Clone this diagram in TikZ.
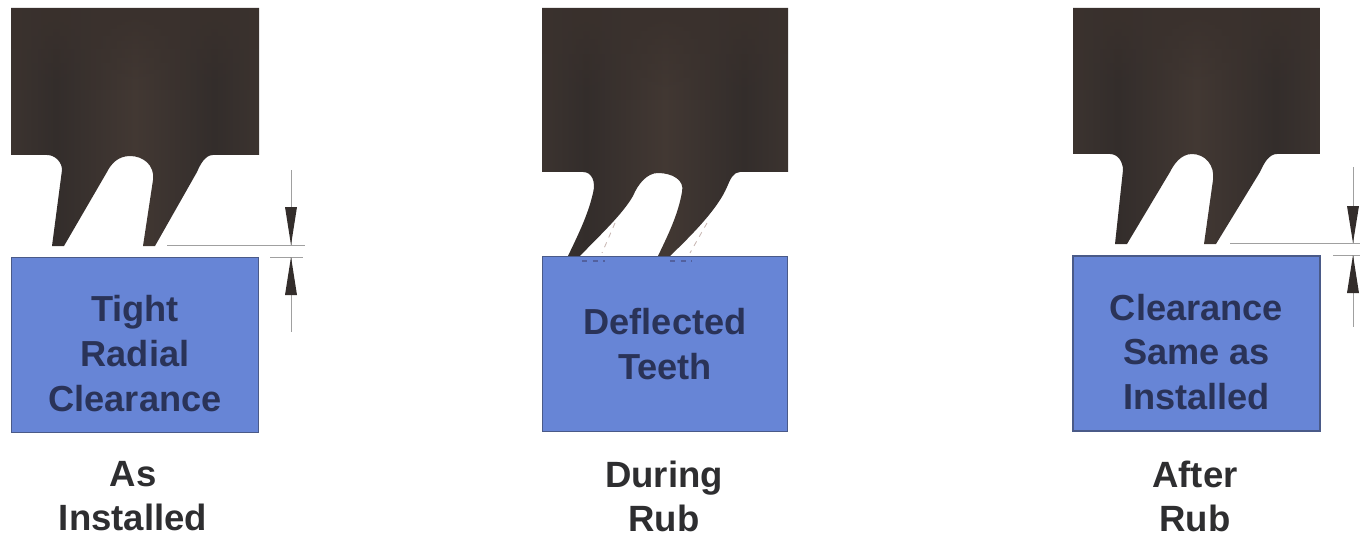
\documentclass[tikz,border=0pt]{standalone}
\usepackage{fontspec}
\setmainfont{Liberation Sans}
\usepackage{xcolor}
\usetikzlibrary{positioning,calc,arrows.meta,fadings}

\definecolor{seal}{HTML}{3A312D}
\definecolor{sealdark}{HTML}{332D2B}
\definecolor{sealmid}{HTML}{423833}
\definecolor{land}{HTML}{6785D6}
\definecolor{landedge}{HTML}{4A5A88}
\definecolor{inktext}{HTML}{2A3358}
\definecolor{capttext}{HTML}{2E2E30}
\definecolor{dimline}{HTML}{A0A0A0}
\definecolor{ghost}{HTML}{C9B8B4}
\definecolor{ghostdark}{HTML}{52609E}

\pgfdeclarehorizontalshading{sealbands}{100bp}{
    color(0bp)=(seal); color(18bp)=(sealmid); color(34bp)=(sealdark);
    color(50bp)=(sealmid); color(66bp)=(sealdark); color(82bp)=(sealmid); color(100bp)=(seal)}

\newcommand{\lowertext}{\rule{0pt}{24.5pt}}

\tikzset{
    sealbody/.style={shading=sealbands, draw=none},
    sealtop/.style={fill=seal, path fading=south},
    landbox/.style={draw=landedge, line width=0.8pt, fill=land, minimum width=4.94cm, minimum height=3.5cm,
        align=center, text=inktext, font=\bfseries\fontsize{20.6}{25.5}\selectfont, inner sep=0pt},
    caption/.style={align=center, text=capttext, font=\bfseries\fontsize{20.8}{25}\selectfont, inner sep=0pt},
    dim/.style={draw=dimline, line width=0.5pt},
    dimtip/.style={draw=none, fill=sealdark},
    ghostline/.style={draw=ghost, line width=0.5pt, dashed},
    ghostdots/.style={draw=ghostdark, line width=0.6pt, dashed}
}

\begin{document}
\begin{tikzpicture}[x=0.02cm, y=-0.02cm]
    \useasboundingbox (0,0) rectangle (1360,537);

    % seal strips
    \path[sealbody] (11,8) -- (259,8) -- (259,155) -- (213,155) .. controls (205,155) and (200,165) .. (197,172)
        -- (155,246) -- (143,246) -- (153,180) .. controls (155,165) and (143,156) .. (130,156)
        .. controls (118,156) and (111,164) .. (107,172) -- (64,246) -- (52,246) -- (62,170)
        .. controls (62,162) and (55,155) .. (47,155) -- (11,155) -- cycle;
    \path[sealbody] (542,8) -- (788,8) -- (788,172) -- (740,172) .. controls (733,172) and (730,180) .. (727,187)
        .. controls (718,208) and (695,232) .. (670,256) -- (658,256) .. controls (668,235) and (678,215) .. (682,192)
        .. controls (685,180) and (672,173) .. (658,173)
        .. controls (647,173) and (638,184) .. (633,196) .. controls (622,215) and (600,235) .. (580,256)
        -- (568,256) .. controls (578,235) and (588,215) .. (593,193)
        .. controls (596,182) and (592,172) .. (583,172) -- (542,172) -- cycle;
    \path[sealbody] (1073,8) -- (1320,8) -- (1320,154) -- (1277,154) .. controls (1269,154) and (1264,163) .. (1260,172)
        -- (1216,244) -- (1204,244) -- (1213,180) .. controls (1215,165) and (1205,154) .. (1192,154)
        .. controls (1181,154) and (1174,164) .. (1170,172) -- (1127,244) -- (1115,244) -- (1123,170)
        .. controls (1123,162) and (1118,154) .. (1110,154) -- (1073,154) -- cycle;
    \path[sealtop] (11,8) rectangle (259,90);
    \path[sealtop] (542,8) rectangle (788,100);
    \path[sealtop] (1073,8) rectangle (1320,90);

    % boxes and captions
    \node[landbox] (tight) at (135,345) {\lowertext Tight\\Radial\\Clearance};
    \node[landbox, minimum width=4.9cm] (deflected) at (665,344) {Deflected\\Teeth};
    \node[landbox] (same) at (1196.5,343.5) {\lowertext Clearance\\Same as\\Installed};

    \node[caption] (installed) at (133,496) {As\\Installed};
    \node[caption] (during) at (664,496) {During\\Rub};
    \node[caption] (after) at (1195,496) {After\\Rub};

    % unbent tooth outline
    \draw[ghostline] (615,223) -- (602,253);
    \draw[ghostline] (707,223) -- (690,253);
    \draw[ghostdots] (582,261) -- (605,261);
    \draw[ghostdots] (670,261) -- (692,261);

    % clearance marks, left
    \coordinate (gapa) at (167,245);
    \coordinate (gapb) at (305,245);
    \coordinate (gapc) at (270,257);
    \coordinate (gapd) at (303,257);
    \coordinate (upa) at (291,170);
    \coordinate (upb) at (291,245);
    \coordinate (lowa) at (291,257);
    \coordinate (lowb) at (291,332);
    \draw[dim] (gapa) -- (gapb);
    \draw[dim] (gapc) -- (gapd);
    \draw[dim] (upa) -- (upb);
    \draw[dim] (lowa) -- (lowb);
    \path[dimtip] (285,207) -- (297,207) -- (upb) -- cycle;
    \path[dimtip] (285,295) -- (297,295) -- (lowa) -- cycle;

    % clearance marks, right
    \coordinate (gape) at (1230,243);
    \coordinate (gapf) at (1360,243);
    \coordinate (gapg) at (1333,255);
    \coordinate (gaph) at (1360,255);
    \coordinate (upc) at (1353,167);
    \coordinate (upd) at (1353,243);
    \coordinate (lowc) at (1353,255);
    \coordinate (lowd) at (1353,327);
    \draw[dim] (gape) -- (gapf);
    \draw[dim] (gapg) -- (gaph);
    \draw[dim] (upc) -- (upd);
    \draw[dim] (lowc) -- (lowd);
    \path[dimtip] (1347,206) -- (1359,206) -- (upd) -- cycle;
    \path[dimtip] (1347,293) -- (1359,293) -- (lowc) -- cycle;
\end{tikzpicture}
\end{document}
